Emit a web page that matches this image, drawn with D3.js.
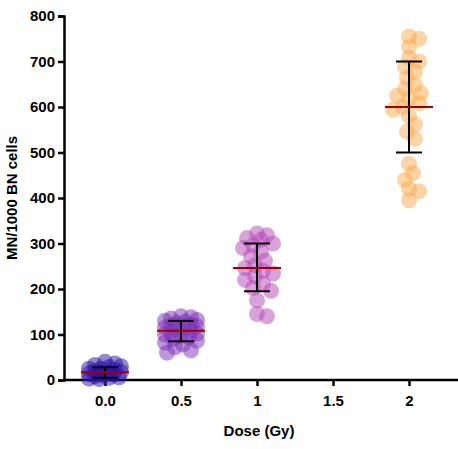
<!DOCTYPE html>
<html><head><meta charset="utf-8">
<script src="https://cdn.jsdelivr.net/npm/d3@7"></script>
<style>body{margin:0;background:#fff}text{font-family:"Liberation Sans",Arial,sans-serif}</style>
</head><body><svg width="458" height="449"></svg>
<script>
const doses = ['0.0', '0.5', '1', '1.5', '2'];
const colors = {'0.0': '#2a12a8', '0.5': '#7b2fb5', '1': '#b347b5', '2': '#f9a94c'};
const values = {
  '0.0': [40, 36, 33, 30, 28, 25, 22, 20, 18, 16, 14, 12, 10, 8, 6, 5, 3, 2, 15, 25],
  '0.5': [140, 138, 135, 132, 130, 128, 125, 122, 120, 118, 115, 112, 110, 108, 105, 102, 100, 97, 94, 90, 86, 82, 78, 72, 65, 60],
  '1': [322, 318, 312, 308, 300, 296, 290, 282, 272, 262, 252, 246, 240, 234, 228, 220, 212, 202, 196, 175, 145, 140],
  '2': [755, 750, 732, 708, 700, 688, 678, 664, 648, 640, 630, 625, 618, 608, 600, 594, 580, 562, 546, 530, 475, 455, 440, 420, 415, 395]
};
const means = {'0.0': 17, '0.5': 108, '1': 246, '2': 600};
const errLo = {'0.0': 5, '0.5': 85, '1': 195, '2': 500};
const errHi = {'0.0': 28, '0.5': 130, '1': 300, '2': 700};
const yTicks = [0, 100, 200, 300, 400, 500, 600, 700, 800];

const svg = d3.select('svg');
const x = d3.scalePoint().domain(doses).range([105, 409]);
const y = d3.scaleLinear().domain([0, 800]).range([380, 16]);
const r = 8;

const ya = svg.append('g').attr('transform', 'translate(64,0)')
  .call(d3.axisLeft(y).tickValues(yTicks).tickSize(6));
ya.select('.domain').attr('stroke-width', 2.5);
ya.selectAll('line').attr('stroke-width', 2.5);
ya.selectAll('text').attr('font-size', 15).attr('font-weight', 'bold').attr('fill', '#000');

const xa = svg.append('g').attr('transform', 'translate(0,380)')
  .call(d3.axisBottom(x).tickSize(6).tickSizeOuter(0));
xa.select('.domain').attr('d', 'M63,0H458').attr('stroke-width', 2.5);
xa.selectAll('line').attr('stroke-width', 2.5);
xa.selectAll('text').attr('font-size', 15).attr('font-weight', 'bold').attr('fill', '#000').attr('dy', '1.1em');

svg.append('text').attr('x', 259).attr('y', 436).attr('text-anchor', 'middle')
  .attr('font-size', 15).attr('font-weight', 'bold').text('Dose (Gy)');
svg.append('text').attr('transform', 'translate(17,198) rotate(-90)').attr('text-anchor', 'middle')
  .attr('font-size', 15).attr('font-weight', 'bold').text('MN/1000 BN cells');

// compact swarm: offsets limited to +-16px, overlap allowed
function swarm(vals, cx) {
  const placed = [];
  const order = vals.map((v, i) => i).sort((a, b) => vals[b] - vals[a]);
  const cands = [0];
  for (let k = 1; k <= 8; k++) cands.push(k * 2, -k * 2);
  order.forEach(i => {
    const py = y(vals[i]);
    let best = 0, bestScore = Infinity;
    for (const dx of cands) {
      const dmin = placed.reduce((m, p) => Math.min(m, Math.hypot(p.x - (cx + dx), p.y - py)), Infinity);
      const score = (dmin >= r * 1.2 ? 0 : r * 1.2 - dmin) * 10 + Math.abs(dx) * 0.1;
      if (score < bestScore) { bestScore = score; best = dx; }
    }
    placed.push({x: cx + best, y: py});
  });
  return placed;
}

Object.keys(values).forEach(d => {
  const pts = swarm(values[d], x(d));
  svg.append('g').selectAll('circle').data(pts).enter().append('circle')
    .attr('cx', p => p.x).attr('cy', p => p.y).attr('r', r)
    .attr('fill', colors[d]).attr('fill-opacity', 0.5);
  const cx = x(d);
  const g = svg.append('g').attr('stroke', '#000').attr('stroke-width', 2);
  g.append('line').attr('x1', cx).attr('x2', cx).attr('y1', y(errLo[d])).attr('y2', y(errHi[d]));
  [errLo[d], errHi[d]].forEach(v => g.append('line').attr('x1', cx - 13).attr('x2', cx + 13).attr('y1', y(v)).attr('y2', y(v)));
  svg.append('line').attr('x1', cx - 24).attr('x2', cx + 24).attr('y1', y(means[d])).attr('y2', y(means[d]))
    .attr('stroke', '#a00000').attr('stroke-width', 2);
});
</script></body></html>
